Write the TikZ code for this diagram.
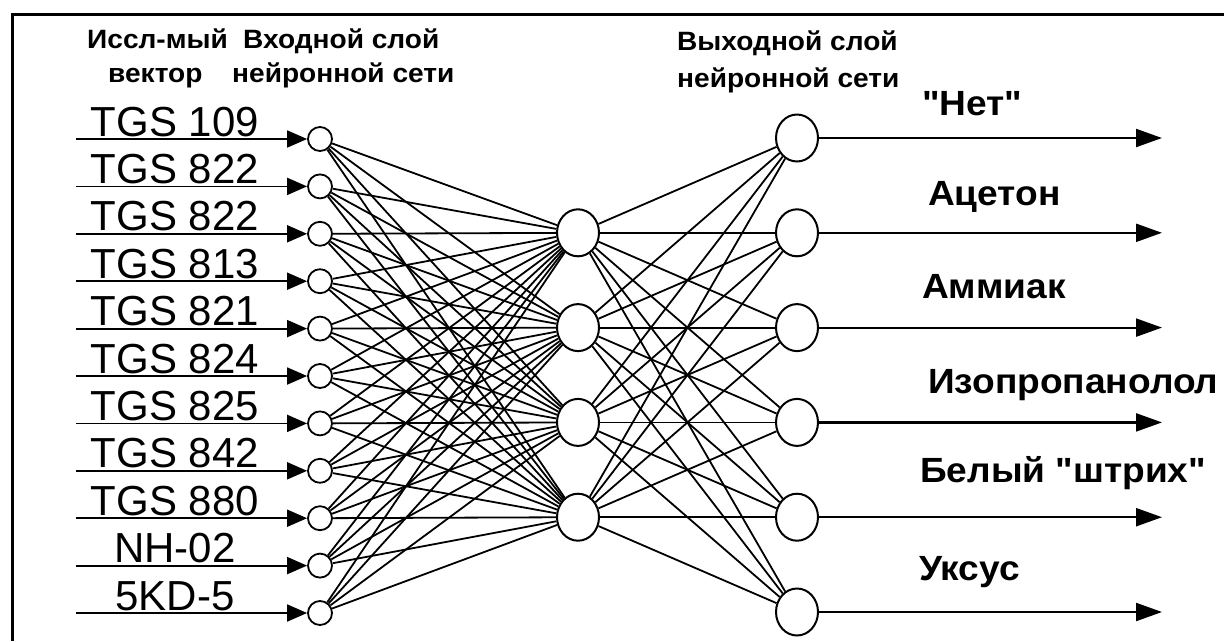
\documentclass[tikz,border=0pt]{standalone}
\usepackage{fontspec}
\setmainfont{Liberation Sans}
\newfontfamily\labfont{Liberation Sans}[FakeStretch=1.06]
\usetikzlibrary{arrows.meta,shapes.geometric}
\begin{document}
\begin{tikzpicture}[x=1pt,y=-1pt,
  inp/.style={circle, draw, line width=1.8pt, minimum size=24pt, inner sep=0pt},
  neu/.style={ellipse, draw, line width=2pt, minimum width=42pt, minimum height=47pt, inner sep=0pt},
  conn/.style={line width=1.8pt},
  feed/.style={line width=1.8pt, -{Triangle[length=20pt,width=17pt]}},
  outarr/.style={line width=2.2pt, -{Triangle[length=26pt,width=18pt]}},
  tgs/.style={font=\fontsize{42}{44}\selectfont, anchor=base, inner sep=0pt},
  hdr/.style={font=\labfont\fontsize{26.5}{28}\selectfont\bfseries, anchor=base west, inner sep=0pt},
  outlab/.style={font=\labfont\fontsize{35}{37}\selectfont\bfseries, anchor=base west, inner sep=0pt}]
\useasboundingbox (0,0) rectangle (1224,641);
% frame
\draw[line width=3pt] (12,641) -- (12,14) -- (1224,14);
% input layer
\foreach \lab [count=\i from 0] in {TGS 109,TGS 822,TGS 822,TGS 813,TGS 821,TGS 824,TGS 825,TGS 842,TGS 880,NH-02,5KD-5} {
  \pgfmathsetmacro{\yy}{139+47.4*\i}
  \node[inp] (in\i) at (320,\yy) {};
  \coordinate (is\i) at (76,\yy);
  \node[tgs] (lab\i) at (175,\yy-3) {\lab};
  \draw[feed] (is\i) -- (in\i);
}
% hidden layer
\foreach \j in {1,...,4} {
  \pgfmathsetmacro{\yy}{138+94.8*\j}
  \node[neu] (h\j) at (578,\yy) {};
}
% output layer
\foreach \k in {0,...,5} {
  \pgfmathsetmacro{\yy}{138+94.8*\k}
  \node[neu] (o\k) at (797,\yy) {};
  \coordinate (oe\k) at (1162,\yy);
  \draw[outarr] (o\k) -- (oe\k);
}
% connections
\foreach \i in {0,...,10} \foreach \j in {1,...,4} \draw[conn] (in\i) -- (h\j);
\foreach \j in {1,...,4} \foreach \k in {0,...,5} \draw[conn] (h\j) -- (o\k);
% headers
\node[hdr] (t1) at (87,48) {Иссл-мый};
\node[hdr] (t2) at (243,48) {Входной слой};
\node[hdr] (t3) at (108,82) {вектор};
\node[hdr] (t4) at (232,82) {нейронной сети};
\node[hdr] (t5) at (677,50) {Выходной слой};
\node[hdr] (t6) at (677,87) {нейронной сети};
% output labels
\node[outlab] (l0) at (922,115) {"Нет"};
\node[outlab] (l1) at (928,205) {Ацетон};
\node[outlab] (l2) at (922,298) {Аммиак};
\node[outlab] (l3) at (928,393) {Изопропанолол};
\node[outlab] (l4) at (920,482) {Белый "штрих"};
\node[outlab] (l5) at (919,580) {Уксус};
\end{tikzpicture}
\end{document}
